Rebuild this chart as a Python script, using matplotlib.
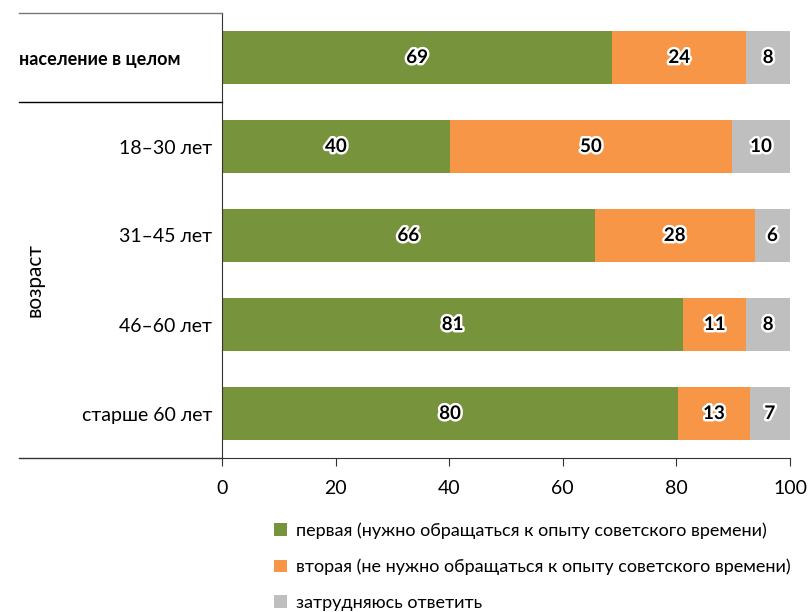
import matplotlib
matplotlib.use('Agg')
import matplotlib.pyplot as plt
import matplotlib.patheffects as pe
from matplotlib.lines import Line2D
from matplotlib.patches import Patch
import numpy as np

# категории сверху вниз
groups = ['население в целом', '18–30 лет', '31–45 лет', '46–60 лет', 'старше 60 лет']
# длины сегментов (доли, %), как на рисунке
first = [68.7, 40.1, 65.6, 81.2, 80.3]
second = [23.6, 49.7, 28.2, 11.1, 12.6]
hard = [7.7, 10.2, 6.2, 7.7, 7.1]
# подписи на сегментах
first_lbl = ['69', '40', '66', '81', '80']
second_lbl = ['24', '50', '28', '11', '13']
hard_lbl = ['8', '10', '6', '8', '7']

series_names = ['первая (нужно обращаться к опыту советского времени)',
                'вторая (не нужно обращаться к опыту советского времени)',
                'затрудняюсь ответить']
colors = ['#77933C', '#F79646', '#BFBFBF']

plt.rcParams['font.family'] = ['Lato', 'DejaVu Sans']

W, H = 810, 612
fig = plt.figure(figsize=(W / 100, H / 100), dpi=100)
ax = fig.add_axes([222 / W, 1 - 458 / H, (790 - 222) / W, (458 - 13) / H])

ys = np.arange(len(groups))
left = np.zeros(len(groups))
for vals, lbls, col in zip([first, second, hard], [first_lbl, second_lbl, hard_lbl], colors):
    vals = np.array(vals)
    ax.barh(ys, vals, left=left, height=0.6, color=col)
    for y, l, v, t in zip(ys, left, vals, lbls):
        ax.text(l + v / 2, y, t, ha='center', va='center', fontsize=13.5,
                fontweight='bold', color='black',
                path_effects=[pe.withStroke(linewidth=3.5, foreground='white')])
    left += vals

ax.set_xlim(0, 100)
ax.set_ylim(len(groups) - 0.5, -0.5)
ax.set_xticks([0, 20, 40, 60, 80, 100])
ax.tick_params(axis='x', labelsize=14, length=6, pad=10, color='#333333')
ax.set_yticks(ys)
ax.set_yticklabels([''] + groups[1:])
ax.tick_params(axis='y', labelsize=14, length=0, pad=7)
for s in ['top', 'right']:
    ax.spines[s].set_visible(False)
ax.spines['left'].set_color('#333333')
ax.spines['bottom'].set_color('#333333')

# заголовок первой строки и подпись группы
fig.text(19 / W, 1 - 60 / H, groups[0], ha='left', va='center', fontsize=13, fontweight='bold')
fig.text(35 / W, 1 - 280 / H, 'возраст', rotation=90, ha='center', va='center', fontsize=15)

# линии таблицы слева
def hline(y, color):
    fig.add_artist(Line2D([19 / W, 222 / W], [1 - y / H, 1 - y / H], color=color, lw=1,
                          transform=fig.transFigure))

hline(13, '#777777')
hline(102, 'black')
hline(458, '#333333')

handles = [Patch(facecolor=c, edgecolor='none') for c in colors]
fig.legend(handles, series_names, loc='upper left', bbox_to_anchor=(258 / W, 1 - 506 / H),
           frameon=False, fontsize=13, handlelength=0.7, handleheight=0.7,
           handletextpad=0.5, labelspacing=1.1)

plt.savefig('out.png', dpi=100)
